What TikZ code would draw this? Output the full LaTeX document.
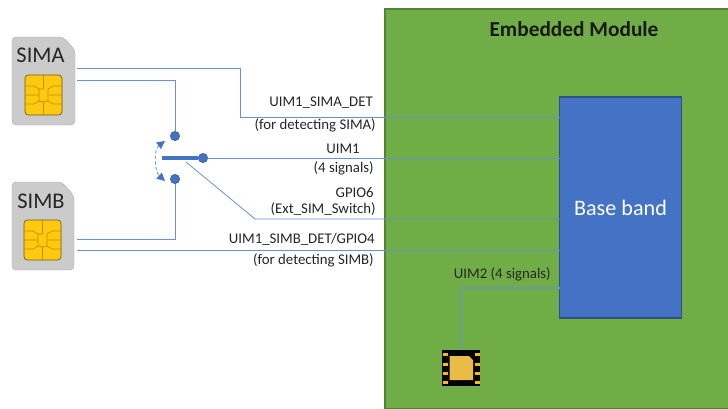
\documentclass[tikz,border=0pt]{standalone}
\usepackage{fontspec}
\setmainfont{Carlito}
\usetikzlibrary{arrows.meta}
\definecolor{wire}{HTML}{6A90D0}
\definecolor{wiredark}{HTML}{4472C4}
\definecolor{modgreen}{HTML}{70AD47}
\definecolor{modedge}{HTML}{548235}
\definecolor{simgray}{HTML}{CBCBCB}
\definecolor{chipgold}{HTML}{FFC90E}
\definecolor{chipedge}{HTML}{6E5A14}
\definecolor{chipline}{HTML}{B98F08}
\definecolor{icgold}{HTML}{E9BC45}
\tikzset{
 x=0.75pt,y=-0.75pt,
 wireline/.style={draw=wire,line width=0.6pt},
 lbl/.style={font=\fontsize{11.1pt}{13pt}\selectfont,text=black!85,inner sep=0pt,anchor=base east},
 sw/.style={circle,fill=wiredark,draw=wiredark!75!black,line width=0.4pt,minimum size=7pt,inner sep=0pt},
 simname/.style={font=\fontsize{16.8pt}{19pt}\selectfont,text=black!85,inner sep=0pt},
 simcard/.style={fill=simgray,draw=simgray!85!black,line width=0.3pt,rounded corners=3pt},
 chippad/.style={draw=chipline,line width=0.5pt},
}
\newcommand{\simchip}[2]{%
 \begin{scope}[shift={(#1,#2)}]
  \fill[chipgold,draw=chipedge,line width=0.5pt,rounded corners=2.5pt] (0,0) rectangle (37,40);
  \draw[chippad] (18.5,0) -- (18.5,14) (18.5,27) -- (18.5,40)
   (0,11) -- (9,11) -- (14,14) -- (14,26) -- (9,29) -- (0,29)
   (37,11) -- (28,11) -- (23,14) -- (23,26) -- (28,29) -- (37,29)
   (0,20) -- (13,20) (37,20) -- (24,20)
   (14,14) -- (18.5,14) (14,26) -- (18.5,27) -- (23,26);
 \end{scope}}
\begin{document}
\begin{tikzpicture}
\useasboundingbox (0,0) rectangle (728,408);
\fill[white] (0,0) rectangle (728,408);
% module
\path[fill=modgreen,draw=modedge,line width=0.8pt] (385,9) -- (729,9) -- (729,409) -- (385,409) -- cycle;
\node[font=\fontsize{16pt}{18pt}\selectfont\bfseries,text=black!90,inner sep=0pt] (title) at (574,29) {Embedded Module};
\node[fill=wiredark,draw=wiredark!70!black,line width=0.8pt,minimum width=91.5pt,minimum height=165.75pt,inner sep=0pt,text=white,font=\fontsize{16.6pt}{19pt}\selectfont] (bb) at (620.5,207.5) {Base band};
% SIM cards
\path[simcard] (12,37) -- (63,37) -- (75,50) -- (75,125) -- (12,125) -- cycle;
\node[simname] (sima) at (40.5,55) {SIMA};
\simchip{25}{75}
\path[simcard] (12,182) -- (62,182) -- (74,196) -- (74,270) -- (12,270) -- cycle;
\node[simname] (simb) at (41,201) {SIMB};
\simchip{24}{220}
% switch nodes
\node[sw] (up) at (175,136) {};
\node[sw] (down) at (175,179) {};
\node[sw] (pole) at (203,158) {};
\coordinate (polel) at (162,158);
\coordinate (slant) at (186,162);
\coordinate (a1) at (77,68); \coordinate (a1b) at (240,68); \coordinate (a1c) at (240,117); \coordinate (bbA) at (560,117);
\coordinate (a2) at (77,80); \coordinate (a2b) at (175,80);
\coordinate (b1) at (77,239); \coordinate (b1b) at (175,239);
\coordinate (b2) at (77,250); \coordinate (bbB) at (560,250);
\coordinate (bbU) at (560,158);
\coordinate (s1) at (255,219); \coordinate (bbS) at (560,219);
\coordinate (u1) at (560,288); \coordinate (u2) at (461,288); \coordinate (u3) at (461,349);
% wires
\draw[wireline] (a1) -- (a1b) -- (a1c) -- (bbA);
\draw[wireline] (a2) -- (a2b) -- (up);
\draw[wireline] (b1) -- (b1b) -- (down);
\draw[wireline] (b2) -- (bbB);
\draw[wireline] (pole) -- (bbU);
\draw[wireline] (slant) -- (s1) -- (bbS);
\draw[draw=wiredark,line width=3pt] (polel) -- (pole);
\draw[draw=wire!60!modgreen,line width=1pt] (u1) -- (u2) -- (u3);
\draw[wire,line width=0.6pt,dash pattern=on 2.5pt off 1.6pt,{Triangle[length=6pt,width=6pt,color=wiredark,fill=wiredark]}-{Triangle[length=6pt,width=6pt,color=wiredark,fill=wiredark]}]
  (165,141) .. controls (154,149) and (154,171) .. (165,181);
% labels
\node[lbl] (l1) at (373,106) {UIM1\_SIMA\_DET};
\node[lbl] (l2) at (376,129) {(for detecting SIMA)};
\node[lbl] (l3) at (360,153) {UIM1};
\node[lbl] (l4) at (374,172) {(4 signals)};
\node[lbl] (l5) at (374,197) {GPIO6};
\node[lbl] (l6) at (376,213) {(Ext\_SIM\_Switch)};
\node[lbl] (l7) at (375,243) {UIM1\_SIMB\_DET/GPIO4};
\node[lbl] (l8) at (374,264) {(for detecting SIMB)};
\node[lbl] (l9) at (551,278) {UIM2 (4 signals)};
% chip
\node[fill=black,minimum width=29pt,minimum height=27.5pt,inner sep=0pt] (ic) at (461,368) {};
\fill[icgold] (449.5,356) -- (469,356) -- (473,360) -- (473,380) -- (449.5,380) -- cycle;
\foreach \yy in {354,364,373,382}{
 \fill[chipgold!80!orange] (443,\yy-1.5) rectangle (447.5,\yy+1.5);
 \fill[chipgold!80!orange] (475,\yy-1.5) rectangle (479.5,\yy+1.5);
}
\end{tikzpicture}
\end{document}
